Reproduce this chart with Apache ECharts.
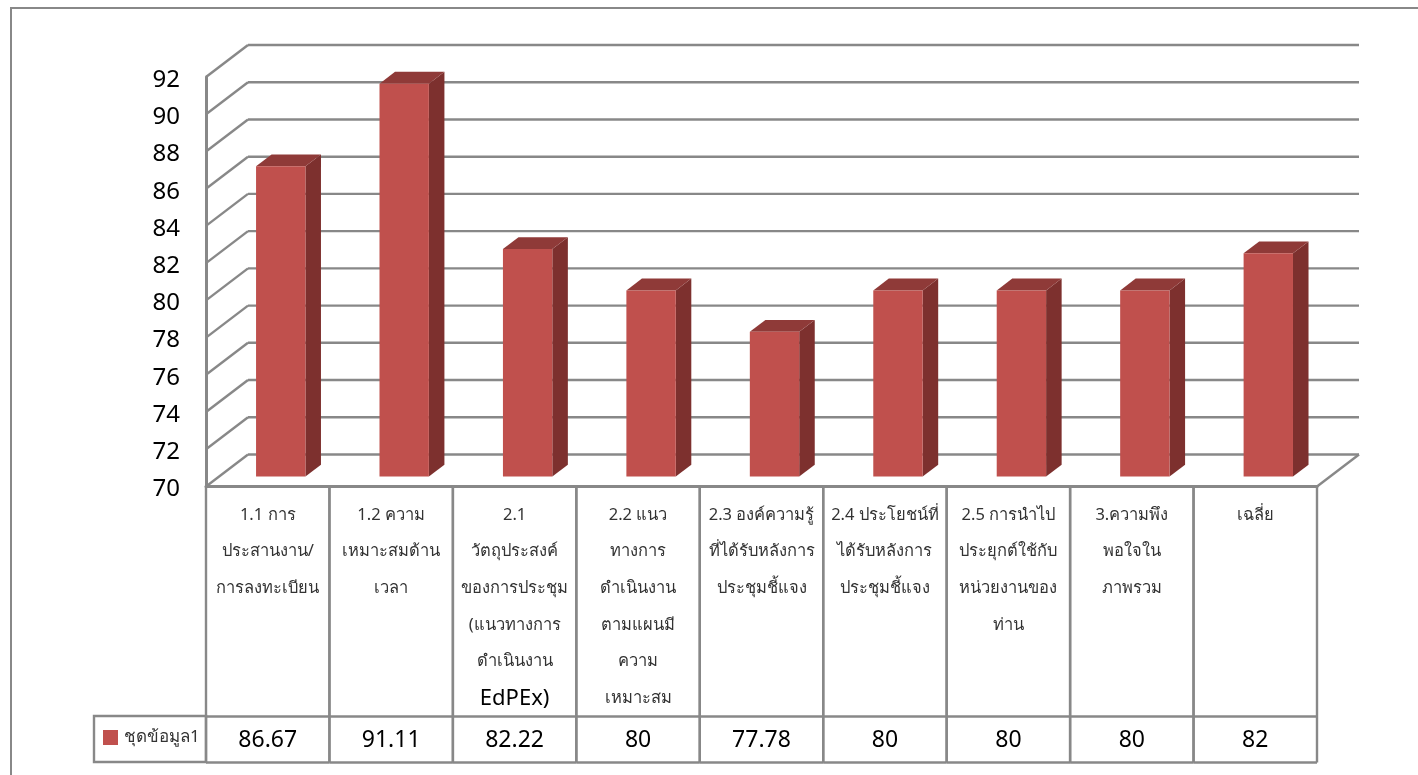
<!DOCTYPE html>
<html>
<head>
<meta charset="utf-8">
<title>ชุดข้อมูล1</title>
<style>
  html, body { margin: 0; padding: 0; background: #fff; }
  #chart { width: 1418px; height: 775px; }
</style>
<script src="https://cdn.jsdelivr.net/npm/echarts@6/dist/echarts.min.js"></script>
</head>
<body>
<div id="chart"></div>
<script>
const seriesName = 'ชุดข้อมูล1';
const categories = [
  '1.1 การ\nประสานงาน/\nการลงทะเบียน',
  '1.2 ความ\nเหมาะสมด้าน\nเวลา',
  '2.1\nวัตถุประสงค์\nของการประชุม\n(แนวทางการ\nดำเนินงาน\nEdPEx)',
  '2.2 แนว\nทางการ\nดำเนินงาน\nตามแผนมี\nความ\nเหมาะสม',
  '2.3 องค์ความรู้\nที่ได้รับหลังการ\nประชุมชี้แจง',
  '2.4 ประโยชน์ที่\nได้รับหลังการ\nประชุมชี้แจง',
  '2.5 การนำไป\nประยุกต์ใช้กับ\nหน่วยงานของ\nท่าน',
  '3.ความพึง\nพอใจใน\nภาพรวม',
  'เฉลี่ย'
];
const values = [86.67, 91.11, 82.22, 80, 77.78, 80, 80, 80, 82];
const valueTicks = [70, 72, 74, 76, 78, 80, 82, 84, 86, 88, 90, 92];

const FONT = '"Noto Sans", "Open Sans", sans-serif';
const LINE = '#888888';
const FRONT = '#C0504D', TOP = '#8F3A38', SIDE = '#7D302E';

// Oblique projection: how far the back wall sits from the front plane.
const DEPTH_X = 42, DEPTH_Y = -32;
// Bar prism placement inside the depth of the floor, as fractions of it.
const BAR_NEAR = 0.31, BAR_FAR = 0.68;
const BAR_WIDTH_RATIO = 0.4;
// Data table under the plot, offsets below the zero line of the value axis.
const TABLE_KEY_TOP = 230, TABLE_BOTTOM = 276;

const line = (x1, y1, x2, y2, w) => ({
  type: 'line',
  shape: { x1, y1, x2, y2 },
  style: { stroke: LINE, lineWidth: w || 2.4 }
});

function renderWall(params, api) {
  const tick = api.value(1);
  const band = api.size([1, 0])[0];
  const y = api.coord([0, tick])[1];
  const left = api.coord([0, tick])[0] - band / 2;
  const right = api.coord([categories.length - 1, tick])[0] + band / 2;
  const children = [
    line(left, y, left + DEPTH_X, y + DEPTH_Y),
    line(left + DEPTH_X, y + DEPTH_Y, right + DEPTH_X, y + DEPTH_Y)
  ];
  if (tick === valueTicks[0]) {
    children.push(line(right, y, right + DEPTH_X, y + DEPTH_Y));
  }
  return { type: 'group', children };
}

function renderBar(params, api) {
  const top = api.coord([api.value(0), api.value(1)]);
  const base = api.coord([api.value(0), valueTicks[0]]);
  const band = api.size([1, 0])[0];
  const w = band * BAR_WIDTH_RATIO;
  const ox = DEPTH_X * BAR_NEAR, oy = DEPTH_Y * BAR_NEAR;
  const dx = DEPTH_X * (BAR_FAR - BAR_NEAR), dy = DEPTH_Y * (BAR_FAR - BAR_NEAR);
  const x0 = top[0] - w / 2 + ox, x1 = x0 + w;
  const yT = top[1] + oy, yB = base[1] + oy;
  return {
    type: 'group',
    children: [
      { type: 'polygon', shape: { points: [[x1, yT], [x1 + dx, yT + dy], [x1 + dx, yB + dy], [x1, yB]] }, style: { fill: SIDE } },
      { type: 'polygon', shape: { points: [[x0, yT], [x0 + dx, yT + dy], [x1 + dx, yT + dy], [x1, yT]] }, style: { fill: TOP } },
      { type: 'rect', shape: { x: x0, y: yT, width: w, height: yB - yT }, style: { fill: FRONT } }
    ]
  };
}

function renderTableCell(params, api) {
  const i = api.value(0);
  const c = api.coord([i, valueTicks[0]]);
  const band = api.size([1, 0])[0];
  const l = c[0] - band / 2, r = c[0] + band / 2, y = c[1];
  const children = [
    line(l, y, l, y + TABLE_BOTTOM),
    line(r, y, r, y + TABLE_BOTTOM),
    line(l, y + TABLE_KEY_TOP, r, y + TABLE_KEY_TOP),
    line(l, y + TABLE_BOTTOM, r, y + TABLE_BOTTOM),
    {
      type: 'text',
      style: {
        x: c[0], y: y + (TABLE_KEY_TOP + TABLE_BOTTOM) / 2 + 1,
        text: String(api.value(1)),
        fill: '#000', font: '23px ' + FONT, align: 'center', verticalAlign: 'middle'
      }
    }
  ];
  return { type: 'group', children };
}

const chart = echarts.init(document.getElementById('chart'), null, { renderer: 'canvas' });
chart.setOption({
  animation: false,
  backgroundColor: '#fff',
  tooltip: { show: false },
  grid: { left: 206, right: 101, top: 77, bottom: 288.5, containLabel: false },
  legend: {
    left: 103, top: 729, padding: 0, itemWidth: 15, itemHeight: 15, itemGap: 0,
    selectedMode: false,
    data: [{ name: seriesName, icon: 'rect' }],
    textStyle: { fontFamily: FONT, fontSize: 17, color: '#333', padding: [0, 0, 0, 1] }
  },
  graphic: [
    { type: 'rect', silent: true, z: 0, shape: { x: 11, y: 8, width: 1500, height: 900 }, style: { fill: 'none', stroke: LINE, lineWidth: 2 } },
    { type: 'rect', silent: true, z: 0, shape: { x: 94, y: 716, width: 112, height: 46 }, style: { fill: 'none', stroke: LINE, lineWidth: 2.4 } }
  ],
  xAxis: {
    type: 'category',
    data: categories,
    boundaryGap: true,
    axisLine: { show: true, lineStyle: { color: LINE, width: 3 } },
    axisTick: { show: false },
    splitLine: { show: false },
    axisLabel: {
      interval: 0, hideOverlap: false, margin: 10, verticalAlign: 'top', align: 'center',
      fontFamily: FONT, fontSize: 16.5, lineHeight: 36.7, color: '#333',
      formatter: v => v.replace('EdPEx)', '{latin|EdPEx)}'),
      rich: { latin: { fontFamily: FONT, fontSize: 22, lineHeight: 36.7, color: '#000' } }
    }
  },
  yAxis: {
    type: 'value', min: 70, max: 92, interval: 2,
    axisLine: { show: true, onZero: false, lineStyle: { color: LINE, width: 3 } },
    axisTick: { show: false },
    splitLine: { show: false },
    axisLabel: { margin: 26, verticalAlign: 'top', lineHeight: 6, fontFamily: FONT, fontSize: 24, color: '#000' }
  },
  series: [
    {
      name: 'wall', type: 'custom', silent: true, z: 1,
      renderItem: renderWall, encode: { x: 0, y: 1 },
      data: valueTicks.map(t => [0, t])
    },
    {
      name: 'table', type: 'custom', silent: true, z: 1,
      renderItem: renderTableCell, encode: { x: 0, y: 1 },
      data: values.map((v, i) => [i, v])
    },
    {
      name: seriesName, type: 'custom', z: 2,
      itemStyle: { color: FRONT },
      renderItem: renderBar, encode: { x: 0, y: 1 },
      data: values.map((v, i) => [i, v])
    }
  ]
});
</script>
</body>
</html>
